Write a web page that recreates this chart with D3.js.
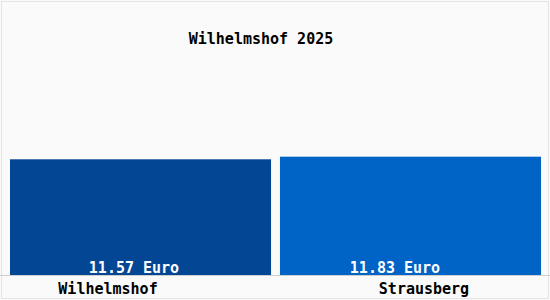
<!DOCTYPE html>
<html>
<head>
<meta charset="utf-8">
<script src="https://cdn.jsdelivr.net/npm/d3@7"></script>
<style>
  html, body { margin: 0; padding: 0; background: #fff; }
  #chart { width: 550px; height: 300px; }
  text { font-family: "DejaVu Sans Mono", monospace; font-weight: bold; }
</style>
</head>
<body>
<div id="chart"></div>
<script>
const title = "Wilhelmshof 2025";
const categories = ["Wilhelmshof", "Strausberg"];
const values = [11.57, 11.83];
const valueLabels = ["11.57 Euro", "11.83 Euro"];
const barColors = ["#034694", "#0063c6"];

function draw() {
  const w = 550, h = 300;
  d3.select("#chart").selectAll("*").remove();

  const svg = d3.select("#chart")
    .append("svg")
    .attr("width", w)
    .attr("height", h);

  // background and frame
  svg.append("rect")
    .attr("x", 0).attr("y", 0)
    .attr("width", w).attr("height", h)
    .attr("fill", "#fafafa");
  svg.append("rect")
    .attr("x", 1.5).attr("y", 1.5)
    .attr("width", w - 3).attr("height", h - 3)
    .attr("fill", "none")
    .attr("stroke", "#e4e4e4");

  const x = d3.scaleBand()
    .domain(categories)
    .range([10, 541])
    .paddingInner(0.033);

  const y = d3.scaleLinear()
    .domain([0, 24])
    .range([275, 35]);

  svg.selectAll("rect.bar")
    .data(categories)
    .join("rect")
    .attr("class", "bar")
    .attr("x", d => x(d))
    .attr("width", x.bandwidth())
    .attr("y", (d, i) => y(values[i]))
    .attr("height", (d, i) => y(0) - y(values[i]))
    .attr("fill", (d, i) => barColors[i]);

  // baseline
  svg.append("line")
    .attr("x1", 0).attr("x2", w)
    .attr("y1", y(0) + 0.5).attr("y2", y(0) + 0.5)
    .attr("stroke", "#cfcfcf");

  // value labels inside bars
  const xVal = d3.scalePoint().domain(categories).range([134, 395]);
  svg.selectAll("text.val")
    .data(categories)
    .join("text")
    .attr("class", "val")
    .attr("x", d => xVal(d))
    .attr("y", y(0) - 2)
    .attr("text-anchor", "middle")
    .attr("fill", "#fff")
    .style("font-size", "15px")
    .text((d, i) => valueLabels[i]);

  // category labels
  const xCat = d3.scalePoint().domain(categories).range([108, 424]);
  svg.selectAll("text.cat")
    .data(categories)
    .join("text")
    .attr("class", "cat")
    .attr("x", d => xCat(d))
    .attr("y", 294)
    .attr("text-anchor", "middle")
    .attr("fill", "#000")
    .style("font-size", "15px")
    .text(d => d);

  svg.append("text")
    .attr("x", 261)
    .attr("y", 44)
    .attr("text-anchor", "middle")
    .attr("fill", "#000")
    .style("font-size", "15px")
    .text(title);
}

draw();
</script>
</body>
</html>
